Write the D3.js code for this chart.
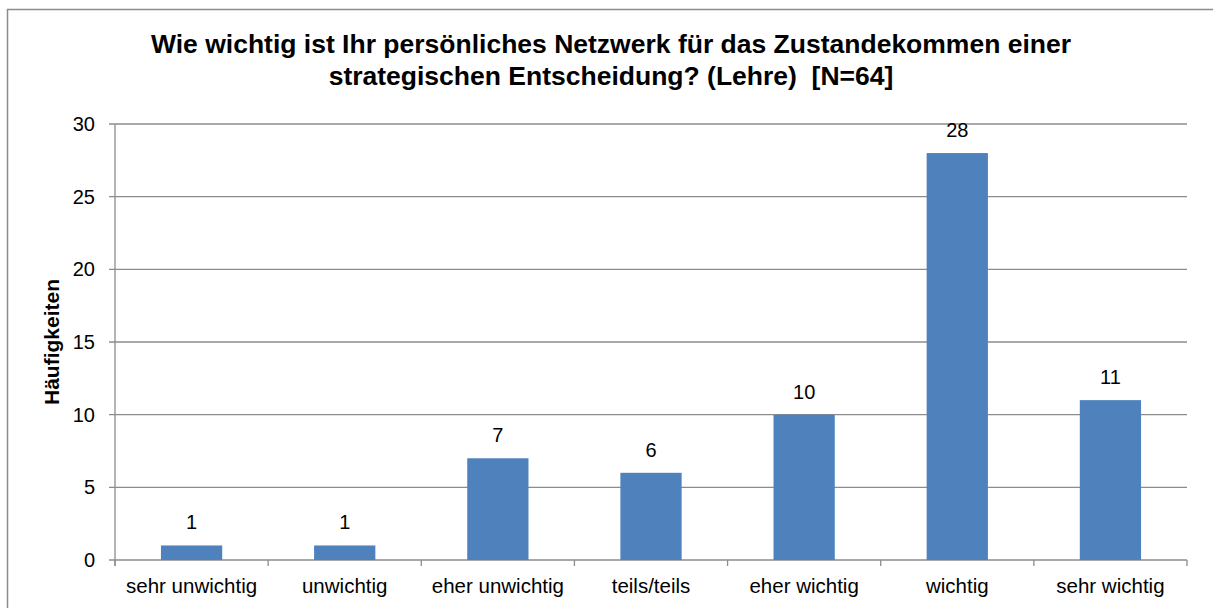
<!DOCTYPE html>
<html>
<head>
<meta charset="utf-8">
<script src="https://cdn.jsdelivr.net/npm/d3@7"></script>
<style>
  body { margin: 0; background: #fff; }
  svg { display: block; font-family: "Liberation Sans", Arial, sans-serif; }
</style>
</head>
<body>
<div id="chart"></div>
<script>
// Antworten und Häufigkeiten
const categories = ["sehr unwichtig", "unwichtig", "eher unwichtig", "teils/teils", "eher wichtig", "wichtig", "sehr wichtig"];
const counts = [1, 1, 7, 6, 10, 28, 11];
const yTicks = [0, 5, 10, 15, 20, 25, 30];
const titleLines = ["Wie wichtig ist Ihr persönliches Netzwerk für das Zustandekommen einer", "strategischen Entscheidung? (Lehre)  [N=64]"];
const yLabel = "Häufigkeiten";

const width = 1213, height = 608;
const margin = { top: 124, right: 26, bottom: 48, left: 115 };
const innerW = width - margin.left - margin.right;
const innerH = height - margin.top - margin.bottom;

const svg = d3.select("#chart").append("svg")
    .attr("width", width)
    .attr("height", height);

// outer chart border
svg.append("rect")
    .attr("x", 7.5).attr("y", 9.5)
    .attr("width", width).attr("height", height)
    .attr("fill", "none")
    .attr("stroke", "#8c8c8c")
    .attr("stroke-width", 1.5);

const x = d3.scaleBand()
    .domain(categories)
    .range([0, innerW])
    .paddingInner(0.6)
    .paddingOuter(0.3);

const y = d3.scaleLinear()
    .domain([0, 30])
    .range([innerH, 0]);

const g = svg.append("g")
    .attr("transform", `translate(${margin.left},${margin.top})`);

// gridlines
g.selectAll(".grid")
  .data(yTicks)
  .enter()
  .append("line")
    .attr("x1", -6)
    .attr("x2", innerW)
    .attr("y1", d => y(d))
    .attr("y2", d => y(d))
    .attr("stroke", "#8c8c8c")
    .attr("stroke-width", 1.3);

// y tick labels
g.selectAll(".ytick")
  .data(yTicks)
  .enter()
  .append("text")
    .attr("x", -20)
    .attr("y", d => y(d))
    .attr("dy", "0.35em")
    .attr("text-anchor", "end")
    .attr("font-size", 20)
    .attr("fill", "#000")
    .text(d => d);

// bars
g.selectAll(".bar")
  .data(counts)
  .enter()
  .append("rect")
    .attr("x", (d, i) => x(categories[i]))
    .attr("y", d => y(d))
    .attr("width", x.bandwidth())
    .attr("height", d => innerH - y(d))
    .attr("fill", "#4f81bd");

// value labels
g.selectAll(".val")
  .data(counts)
  .enter()
  .append("text")
    .attr("x", (d, i) => x(categories[i]) + x.bandwidth() / 2)
    .attr("y", d => y(d) - 16)
    .attr("text-anchor", "middle")
    .attr("font-size", 20)
    .attr("fill", "#000")
    .text(d => d);

// axes lines
g.append("line")
    .attr("x1", 0).attr("x2", 0)
    .attr("y1", 0).attr("y2", innerH + 6)
    .attr("stroke", "#8c8c8c").attr("stroke-width", 1.3);

g.selectAll(".xtick")
  .data(d3.range(categories.length + 1))
  .enter()
  .append("line")
    .attr("x1", d => d * innerW / categories.length)
    .attr("x2", d => d * innerW / categories.length)
    .attr("y1", innerH)
    .attr("y2", innerH + 6)
    .attr("stroke", "#8c8c8c").attr("stroke-width", 1.3);

// category labels
g.selectAll(".cat")
  .data(categories)
  .enter()
  .append("text")
    .attr("x", d => x(d) + x.bandwidth() / 2)
    .attr("y", innerH + 33)
    .attr("text-anchor", "middle")
    .attr("font-size", 20.5)
    .attr("fill", "#000")
    .text(d => d);

// title
svg.selectAll(".title")
  .data(titleLines)
  .enter()
  .append("text")
    .attr("x", 611)
    .attr("y", (d, i) => 53 + i * 32)
    .attr("text-anchor", "middle")
    .attr("font-size", 26.5)
    .attr("font-weight", "bold")
    .attr("fill", "#000")
    .attr("xml:space", "preserve")
    .style("white-space", "pre")
    .text(d => d);

// y axis title
svg.append("text")
    .attr("transform", `translate(59,${margin.top + innerH / 2}) rotate(-90)`)
    .attr("text-anchor", "middle")
    .attr("font-size", 21)
    .attr("font-weight", "bold")
    .attr("fill", "#000")
    .text(yLabel);
</script>
</body>
</html>
